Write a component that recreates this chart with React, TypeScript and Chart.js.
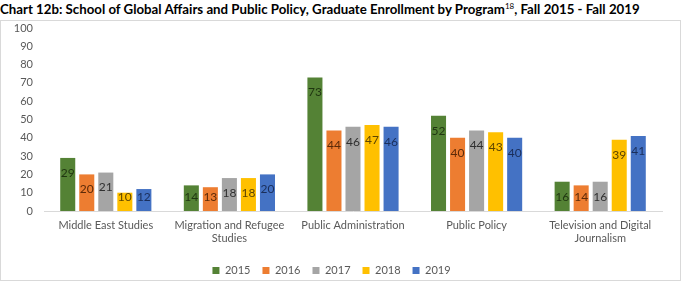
import React, { useEffect, useRef } from "react";
import { Chart, registerables } from "chart.js";

Chart.register(...registerables);

const categories: string[][] = [
  ["Middle East Studies"],
  ["Migration and Refugee", "Studies"],
  ["Public Administration"],
  ["Public Policy"],
  ["Television and Digital", "Journalism"],
];
const years = ["2015", "2016", "2017", "2018", "2019"];
const v2015 = [29, 14, 73, 52, 16];
const v2016 = [20, 13, 44, 40, 14];
const v2017 = [21, 18, 46, 44, 16];
const v2018 = [10, 18, 47, 43, 39];
const v2019 = [12, 20, 46, 40, 41];
const yTicks = [0, 10, 20, 30, 40, 50, 60, 70, 80, 90, 100];

const seriesValues = [v2015, v2016, v2017, v2018, v2019];
const barColors = ["#548235", "#ED7D31", "#A5A5A5", "#FFC000", "#4472C4"];
const labelColors = ["#1f3510", "#5c2a08", "#303030", "#5e4500", "#1a2e5a"];

const FONT = "Lato, 'Open Sans', sans-serif";

const dataLabelPlugin = {
  id: "dataLabels",
  afterDatasetsDraw(chart: any) {
    const ctx = chart.ctx;
    const base = chart.scales.y.getPixelForValue(0);
    ctx.save();
    ctx.font = `12px ${FONT}`;
    ctx.textAlign = "center";
    ctx.textBaseline = "middle";
    chart.data.datasets.forEach((ds: any, i: number) => {
      const meta = chart.getDatasetMeta(i);
      meta.data.forEach((bar: any, j: number) => {
        const y = Math.min(bar.y + 15, base - 14.3);
        ctx.fillStyle = labelColors[i];
        ctx.fillText(String(ds.data[j]), bar.x, y);
      });
    });
    ctx.restore();
  },
};

export default function App() {
  const canvasRef = useRef<HTMLCanvasElement | null>(null);

  useEffect(() => {
    document.body.style.margin = "0";
    const canvas = canvasRef.current;
    if (!canvas) return;
    const chart = new Chart(canvas, {
      type: "bar",
      data: {
        labels: categories as any,
        datasets: years.map((y, i) => ({
          label: y,
          data: seriesValues[i],
          backgroundColor: barColors[i],
          borderWidth: 0,
          categoryPercentage: 0.77,
          barPercentage: 0.79,
        })),
      },
      options: {
        responsive: false,
        animation: false,
        layout: { padding: { top: 7, right: 18, left: 0, bottom: 0 } },
        plugins: {
          legend: {
            position: "bottom",
            labels: {
              boxWidth: 7,
              boxHeight: 7,
              padding: 12,
              color: "#595959",
              font: { family: FONT, size: 11 },
            },
          },
          tooltip: { enabled: false },
        },
        scales: {
          x: {
            grid: { display: false, drawTicks: false },
            border: { display: true, color: "#d9d9d9" },
            ticks: {
              color: "#595959",
              font: { family: FONT, size: 11 },
              padding: 8,
              maxRotation: 0,
              autoSkip: false,
            },
            afterFit: (axis: any) => {
              axis.height = 42;
            },
          },
          y: {
            min: 0,
            max: 100,
            afterBuildTicks: (axis: any) => {
              axis.ticks = yTicks.map((v) => ({ value: v }));
            },
            grid: { display: false, drawTicks: false },
            border: { display: false },
            ticks: {
              color: "#595959",
              font: { family: FONT, size: 11 },
              padding: 11,
            },
            afterFit: (axis: any) => {
              axis.width = 43;
              axis.paddingTop = 0;
              axis.paddingBottom = 0;
            },
          },
        },
      },
      plugins: [dataLabelPlugin],
    });
    return () => chart.destroy();
  }, []);

  return (
    <div style={{ position: "relative", width: 685, height: 282, background: "#fff", fontFamily: FONT, overflow: "hidden" }}>
      <div
        style={{
          position: "absolute",
          left: 0,
          top: 1,
          fontWeight: "bold",
          fontSize: 13.25,
          whiteSpace: "nowrap",
          color: "#000",
          lineHeight: "16px",
        }}
      >
        Chart 12b: School of Global Affairs and Public Policy, Graduate Enrollment by Program
        <sup style={{ fontSize: 8, fontWeight: "normal", verticalAlign: "5px", lineHeight: 0 }}>18</sup>, Fall 2015 - Fall 2019
      </div>
      <div
        style={{
          position: "absolute",
          left: 0,
          top: 20,
          width: 681,
          height: 261,
          border: "1px solid #d9d9d9",
          boxSizing: "border-box",
        }}
      />
      <canvas
        ref={canvasRef}
        width={679}
        height={265}
        style={{ position: "absolute", left: 1, top: 21, width: 679, height: 265 }}
      />
    </div>
  );
}
